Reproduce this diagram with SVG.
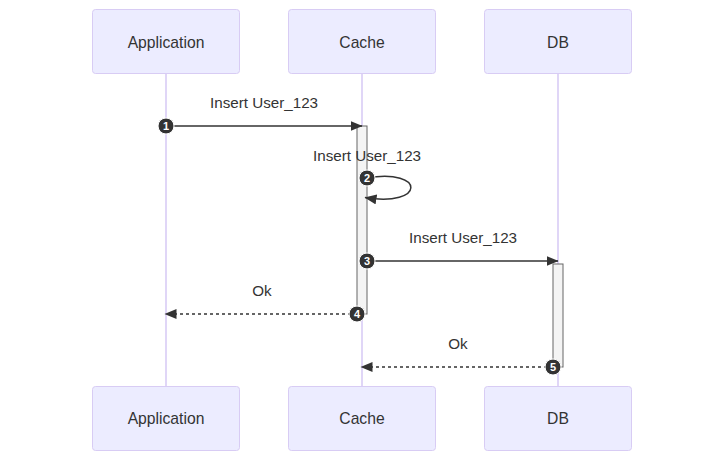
<svg xmlns="http://www.w3.org/2000/svg" width="724" height="461" viewBox="0 0 724 461">
<defs>
<style>
.actor{fill:#ECECFF;stroke:#D8CCF4;stroke-width:1}
.atext{font-family:"Liberation Sans",Arial,sans-serif;font-size:15.7px;fill:#333;text-anchor:middle}
.life{stroke:#D6C9F4;stroke-width:1.5}
.act{fill:#f4f4f4;stroke:#666;stroke-width:1}
.msg{stroke:#333;stroke-width:1.5;fill:none}
.dash{stroke-dasharray:3,3}
.mtext{font-family:"Liberation Sans",Arial,sans-serif;font-size:15.2px;fill:#333;text-anchor:middle}
.seq circle{fill:#333;stroke:#fff;stroke-width:1}
.seq text{font-family:"Liberation Sans",Arial,sans-serif;font-size:11px;font-weight:bold;fill:#fff;text-anchor:middle}
</style>
<marker id="ah" markerUnits="userSpaceOnUse" markerWidth="14" markerHeight="12" refX="11.5" refY="5" orient="auto">
<path d="M0,0 L12,5 L0,10 z" fill="#333"/>
</marker>
</defs>
<rect width="724" height="461" fill="#fff"/>
<g id="lifelines">
<line class="life" x1="166" y1="73" x2="166" y2="386"/>
<line class="life" x1="362" y1="73" x2="362" y2="386"/>
<line class="life" x1="558" y1="73" x2="558" y2="386"/>
</g>
<g id="actor-application-top"><rect class="actor" x="92.5" y="9.5" width="147" height="64" rx="3"/><text class="atext" x="166" y="47.5">Application</text></g>
<g id="actor-cache-top"><rect class="actor" x="288.5" y="9.5" width="147" height="64" rx="3"/><text class="atext" x="362" y="47.5">Cache</text></g>
<g id="actor-db-top"><rect class="actor" x="484.5" y="9.5" width="147" height="64" rx="3"/><text class="atext" x="558" y="47.5">DB</text></g>
<g id="actor-application-bottom"><rect class="actor" x="92.5" y="386.5" width="147" height="64" rx="3"/><text class="atext" x="166" y="424">Application</text></g>
<g id="actor-cache-bottom"><rect class="actor" x="288.5" y="386.5" width="147" height="64" rx="3"/><text class="atext" x="362" y="424">Cache</text></g>
<g id="actor-db-bottom"><rect class="actor" x="484.5" y="386.5" width="147" height="64" rx="3"/><text class="atext" x="558" y="424">DB</text></g>
<g id="activations">
<rect class="act" x="357" y="126" width="10" height="188"/>
<rect class="act" x="553" y="264" width="10" height="103"/>
</g>
<g id="connectors">
<line class="msg" x1="166" y1="126" x2="362" y2="126" marker-end="url(#ah)"/>
<path class="msg" d="M367,178 C425.8,168.2 425.8,207.4 365,197.6" marker-end="url(#ah)"/>
<line class="msg" x1="367" y1="261" x2="558" y2="261" marker-end="url(#ah)"/>
<line class="msg dash" x1="357" y1="314" x2="165" y2="314" marker-end="url(#ah)"/>
<line class="msg dash" x1="553" y1="367" x2="361" y2="367" marker-end="url(#ah)"/>
<text class="mtext" x="264" y="108">Insert User_123</text>
<text class="mtext" x="367" y="161">Insert User_123</text>
<text class="mtext" x="463" y="243">Insert User_123</text>
<text class="mtext" x="262" y="296">Ok</text>
<text class="mtext" x="458" y="349">Ok</text>
</g>
<g id="sequence-numbers" class="seq">
<circle cx="166" cy="126" r="8"/><text x="166" y="130">1</text>
<circle cx="367" cy="178" r="8"/><text x="367" y="182">2</text>
<circle cx="367" cy="261" r="8"/><text x="367" y="265">3</text>
<circle cx="357" cy="314" r="8"/><text x="357" y="318">4</text>
<circle cx="553" cy="367" r="8"/><text x="553" y="371">5</text>
</g>
</svg>
